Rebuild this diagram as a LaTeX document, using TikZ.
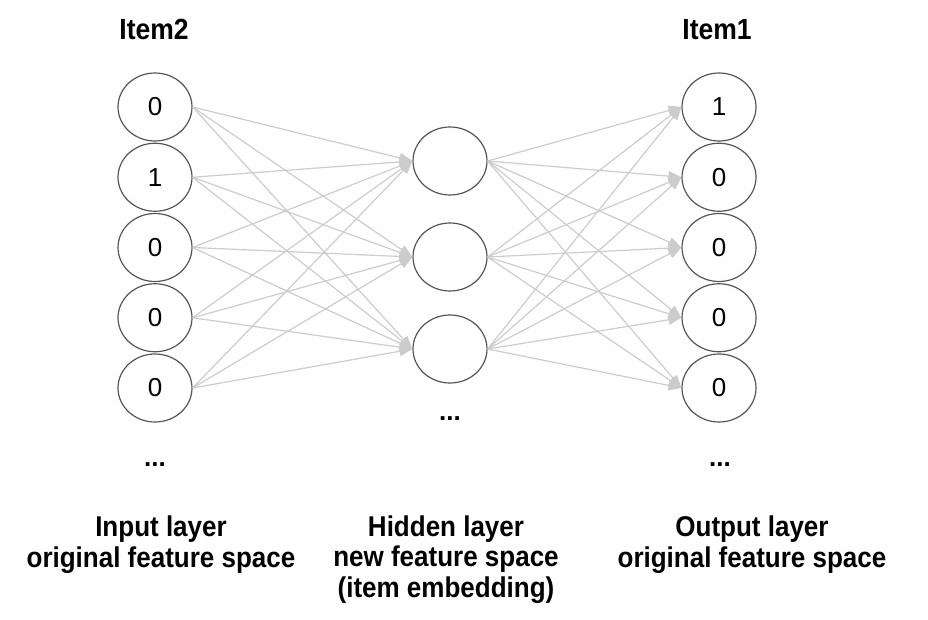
\documentclass[tikz,border=0pt]{standalone}
\usepackage{fontspec}
\setmainfont{Liberation Sans}
\usetikzlibrary{shapes.geometric,arrows.meta}
\definecolor{edgegray}{HTML}{CCCCCC}
\definecolor{ringgray}{HTML}{555555}
\newcommand{\vstretch}[1]{\scalebox{1}[1.1]{#1}}
\begin{document}
\begin{tikzpicture}[x=1pt,y=-1pt,
 unit/.style={ellipse,draw=ringgray,line width=1.2pt,minimum width=74pt,minimum height=68pt,inner sep=0pt,font=\fontsize{26}{30}\selectfont},
 link/.style={draw=edgegray,line width=1.2pt,-{Triangle[length=13pt,width=10pt]}},
 title/.style={font=\bfseries\fontsize{26.5}{30}\selectfont,anchor=base,inner sep=0pt},
 caption/.style={font=\bfseries\fontsize{26}{27.3}\selectfont,anchor=base,inner sep=0pt},
 dots/.style={font=\bfseries\fontsize{26}{30}\selectfont,anchor=base,inner sep=0pt}]
\useasboundingbox (0,0) rectangle (928,620);
\foreach \v [count=\i] in {0,1,0,0,0}
  \node[unit] (in\i) at (155,{107+70.25*(\i-1)}) {\v};
\foreach \v [count=\i] in {1,0,0,0,0}
  \node[unit] (out\i) at (719,{107+70.25*(\i-1)}) {\v};
\foreach \y [count=\j] in {161,257,349}
  \node[unit] (h\j) at (450,\y) {};
\foreach \i in {1,...,5}{
  \foreach \j in {1,2,3}{
    \draw[link] (in\i.east) -- (h\j.west);
    \draw[link] (h\j.east) -- (out\i.west);
  }
}
\node[title] (t2) at (154,40) {\vstretch{Item2}};
\node[title] (t1) at (717,40) {\vstretch{Item1}};
\node[dots] (d1) at (155,466) {...};
\node[dots] (d2) at (450,420) {...};
\node[dots] (d3) at (720,466) {...};
\node[caption] (c1) at (161,567) {\vstretch{\begin{tabular}[b]{@{}c@{}}Input layer\\original feature space\end{tabular}}};
\node[caption] (c2) at (446,597) {\vstretch{\begin{tabular}[b]{@{}c@{}}Hidden layer\\new feature space\\(item embedding)\end{tabular}}};
\node[caption] (c3) at (752,567) {\vstretch{\begin{tabular}[b]{@{}c@{}}Output layer\\original feature space\end{tabular}}};
\end{tikzpicture}
\end{document}
